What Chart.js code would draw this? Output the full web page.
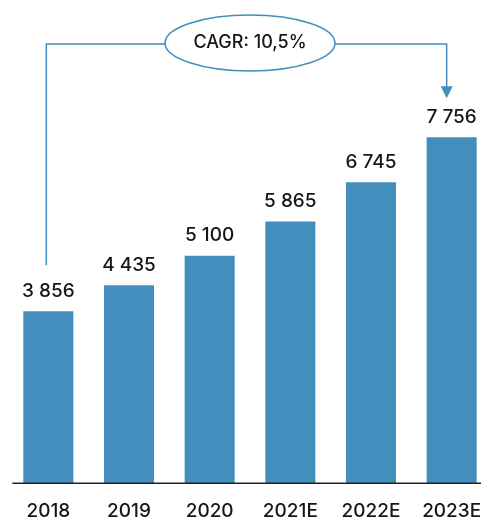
<!DOCTYPE html>
<html>
<head>
<meta charset="utf-8">
<script src="https://cdn.jsdelivr.net/npm/chart.js@4"></script>
<style>
  html, body { margin: 0; padding: 0; background: #fff; overflow: hidden; }
  #wrap { width: 481px; height: 520px; overflow: hidden; }
  canvas { display: block; }
</style>
</head>
<body>
<div id="wrap"><canvas id="chart" width="500" height="520" style="width:500px;height:520px"></canvas></div>
<script>
const years = ["2018", "2019", "2020", "2021E", "2022E", "2023E"];
const values = [3856, 4435, 5100, 5865, 6745, 7756];
const cagrText = "CAGR: 10,5%";

const blue = "#438ebc";
const textColor = "#161616";
const font = "Inter, 'Noto Sans', sans-serif";

// подписи над столбцами, ось и стрелка CAGR
const extras = {
  id: "extras",
  afterDatasetsDraw(chart) {
    const { ctx, chartArea } = chart;
    const bars = chart.getDatasetMeta(0).data;
    ctx.save();

    // подписи значений
    ctx.fillStyle = textColor;
    ctx.font = "500 19px " + font;
    ctx.textAlign = "center";
    ctx.textBaseline = "middle";
    bars.forEach((bar, i) => {
      ctx.fillText(values[i].toLocaleString("ru-RU").replace(/\s/g, " "), bar.x, bar.y - 20);
    });

    // ось X
    ctx.strokeStyle = "#222";
    ctx.lineWidth = 1.5;
    ctx.beginPath();
    ctx.moveTo(bars[0].x - 36, chartArea.bottom);
    ctx.lineTo(chartArea.right, chartArea.bottom);
    ctx.stroke();

    // стрелка CAGR
    const first = bars[0];
    const last = bars[bars.length - 1];
    const lineY = 44;
    const cx = (first.x + last.x) / 2;
    const rx = 85, ry = 28;
    const lx = first.x - 2;
    const rxPos = last.x - 5;
    ctx.strokeStyle = blue;
    ctx.lineWidth = 1.5;
    ctx.beginPath();
    ctx.moveTo(lx, first.y - 46);
    ctx.lineTo(lx, lineY);
    ctx.lineTo(cx - rx, lineY);
    ctx.moveTo(cx + rx, lineY);
    ctx.lineTo(rxPos, lineY);
    ctx.lineTo(rxPos, last.y - 50);
    ctx.stroke();

    ctx.fillStyle = blue;
    ctx.beginPath();
    ctx.moveTo(rxPos - 6, last.y - 51);
    ctx.lineTo(rxPos + 6, last.y - 51);
    ctx.lineTo(rxPos, last.y - 39);
    ctx.closePath();
    ctx.fill();

    ctx.beginPath();
    ctx.ellipse(cx, lineY - 1, rx, ry, 0, 0, Math.PI * 2);
    ctx.stroke();

    ctx.fillStyle = textColor;
    ctx.font = "500 18px " + font;
    ctx.fillText(cagrText, cx, lineY - 1);

    ctx.restore();
  },
};

new Chart(document.getElementById("chart").getContext("2d"), {
  type: "bar",
  plugins: [extras],
  data: {
    labels: years,
    datasets: [
      {
        data: values,
        backgroundColor: blue,
        categoryPercentage: 1,
        barPercentage: 0.62,
      },
    ],
  },
  options: {
    responsive: false,
    animation: false,
    devicePixelRatio: 1,
    layout: { padding: { left: 8, right: 8, top: 37, bottom: -3 } },
    plugins: {
      legend: { display: false },
      tooltip: { enabled: false },
    },
    scales: {
      x: {
        grid: {
          display: true,
          color: "rgba(0,0,0,0)",
          drawOnChartArea: false,
          drawTicks: true,
          tickLength: 17,
        },
        border: { display: false },
        ticks: {
          color: textColor,
          padding: 0,
          font: { family: font, size: 19, weight: "500" },
        },
      },
      y: {
        display: false,
        min: 0,
        max: 10000,
      },
    },
  },
});
</script>
</body>
</html>
